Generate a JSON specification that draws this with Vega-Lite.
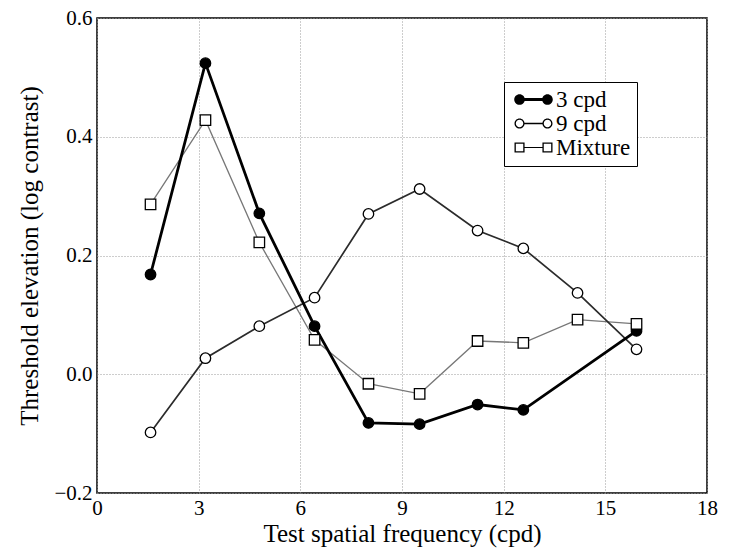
{
  "$schema": "https://vega.github.io/schema/vega-lite/v6.json",
  "width": 610,
  "height": 475,
  "autosize": {"type": "none"},
  "padding": {"left": 97, "top": 18, "right": 22, "bottom": 59},
  "background": "white",
  "config": {
    "view": {"stroke": "black", "strokeWidth": 1.5},
    "font": "Liberation Serif",
    "legend": {"labelFont": "Liberation Serif"},
    "axis": {
      "domain": false,
      "ticks": false,
      "grid": true,
      "gridColor": "#9a9a9a",
      "gridDash": [1, 2],
      "gridWidth": 1,
      "labelFont": "Liberation Serif",
      "labelFontSize": 21,
      "labelColor": "black",
      "titleFont": "Liberation Serif",
      "titleFontSize": 25,
      "titleFontWeight": "normal",
      "titleColor": "black"
    }
  },
  "data": {
    "values": [
      {"series": "3 cpd", "freq": 1.58, "elevation": 0.168},
      {"series": "3 cpd", "freq": 3.2, "elevation": 0.524},
      {"series": "3 cpd", "freq": 4.79, "elevation": 0.271},
      {"series": "3 cpd", "freq": 6.42, "elevation": 0.081},
      {"series": "3 cpd", "freq": 8.01, "elevation": -0.082},
      {"series": "3 cpd", "freq": 9.52, "elevation": -0.084},
      {"series": "3 cpd", "freq": 11.23, "elevation": -0.051},
      {"series": "3 cpd", "freq": 12.58, "elevation": -0.06},
      {"series": "3 cpd", "freq": 15.92, "elevation": 0.073},
      {"series": "9 cpd", "freq": 1.58, "elevation": -0.098},
      {"series": "9 cpd", "freq": 3.2, "elevation": 0.027},
      {"series": "9 cpd", "freq": 4.79, "elevation": 0.081},
      {"series": "9 cpd", "freq": 6.42, "elevation": 0.129},
      {"series": "9 cpd", "freq": 8.01, "elevation": 0.27},
      {"series": "9 cpd", "freq": 9.52, "elevation": 0.312},
      {"series": "9 cpd", "freq": 11.23, "elevation": 0.242},
      {"series": "9 cpd", "freq": 12.58, "elevation": 0.212},
      {"series": "9 cpd", "freq": 14.18, "elevation": 0.137},
      {"series": "9 cpd", "freq": 15.92, "elevation": 0.042},
      {"series": "Mixture", "freq": 1.58, "elevation": 0.286},
      {"series": "Mixture", "freq": 3.2, "elevation": 0.428},
      {"series": "Mixture", "freq": 4.79, "elevation": 0.222},
      {"series": "Mixture", "freq": 6.42, "elevation": 0.058},
      {"series": "Mixture", "freq": 8.01, "elevation": -0.016},
      {"series": "Mixture", "freq": 9.52, "elevation": -0.033},
      {"series": "Mixture", "freq": 11.23, "elevation": 0.056},
      {"series": "Mixture", "freq": 12.58, "elevation": 0.053},
      {"series": "Mixture", "freq": 14.18, "elevation": 0.092},
      {"series": "Mixture", "freq": 15.92, "elevation": 0.085}
    ]
  },
  "encoding": {
    "x": {
      "field": "freq",
      "type": "quantitative",
      "title": "Test spatial frequency (cpd)",
      "scale": {"domain": [0, 18], "nice": false, "zero": false},
      "axis": {"values": [0, 3, 6, 9, 12, 15, 18], "labelPadding": 4, "titlePadding": 3, "labelFlush": false}
    },
    "y": {
      "field": "elevation",
      "type": "quantitative",
      "title": "Threshold elevation (log contrast)",
      "scale": {"domain": [-0.2, 0.6], "nice": false, "zero": false},
      "axis": {"values": [-0.2, 0, 0.2, 0.4, 0.6], "format": ".1f", "labelPadding": 5, "titlePadding": 11}
    }
  },
  "layer": [
    {
      "transform": [{"filter": "datum.series === 'Mixture'"}],
      "mark": {"type": "line", "color": "#777777", "strokeWidth": 1.3}
    },
    {
      "transform": [{"filter": "datum.series === '9 cpd'"}],
      "mark": {"type": "line", "color": "#2b2b2b", "strokeWidth": 1.7}
    },
    {
      "transform": [{"filter": "datum.series === '3 cpd'"}],
      "mark": {"type": "line", "color": "black", "strokeWidth": 2.8}
    },
    {
      "mark": {"type": "point", "filled": true, "stroke": "black", "strokeWidth": 1.3, "size": 110, "opacity": 1},
      "encoding": {
        "shape": {
          "field": "series",
          "type": "nominal",
          "scale": {"domain": ["3 cpd", "9 cpd", "Mixture"], "range": ["circle", "circle", "square"]},
          "legend": null
        },
        "fill": {
          "field": "series",
          "type": "nominal",
          "scale": {"domain": ["3 cpd", "9 cpd", "Mixture"], "range": ["black", "white", "white"]},
          "legend": null
        }
      }
    },
    {
      "transform": [{"filter": "false"}],
      "mark": {"type": "point", "filled": true, "color": "black", "strokeWidth": 0, "opacity": 1},
      "encoding": {
        "shape": {
          "field": "series",
          "type": "nominal",
          "scale": {
            "domain": ["3 cpd", "9 cpd", "Mixture"],
            "range": [
              "M-1.04,0A0.76,0.76,0,1,1,0.48,0A0.76,0.76,0,1,1,-1.04,0ZM0.3,-0.2L3.13,-0.2L3.13,0.2L0.3,0.2ZM2.95,0A0.76,0.76,0,1,1,4.47,0A0.76,0.76,0,1,1,2.95,0Z",
              "M-1,0A0.72,0.72,0,1,1,0.44,0A0.72,0.72,0,1,1,-1,0ZM-0.81,0A0.53,0.53,0,1,0,0.25,0A0.53,0.53,0,1,0,-0.81,0ZM0.3,-0.1L3.13,-0.1L3.13,0.1L0.3,0.1ZM2.99,0A0.72,0.72,0,1,1,4.43,0A0.72,0.72,0,1,1,2.99,0ZM3.18,0A0.53,0.53,0,1,0,4.24,0A0.53,0.53,0,1,0,3.18,0Z",
              "M-1,-0.72L0.44,-0.72L0.44,0.72L-1,0.72ZM-0.81,-0.53L-0.81,0.53L0.25,0.53L0.25,-0.53ZM0.3,-0.08L3.13,-0.08L3.13,0.08L0.3,0.08ZM2.99,-0.72L4.43,-0.72L4.43,0.72L2.99,0.72ZM3.18,-0.53L3.18,0.53L4.24,0.53L4.24,-0.53Z"
            ]
          },
          "legend": {
            "title": null,
            "orient": "none",
            "legendX": 407,
            "legendY": 64,
            "padding": 6,
            "strokeColor": "black",
            "fillColor": "white",
            "symbolSize": 196,
            "symbolFillColor": "black",
            "symbolStrokeWidth": 0,
            "symbolOpacity": 1,
            "labelFont": "Liberation Serif",
            "labelFontSize": 23,
            "labelColor": "black",
            "labelOffset": 23,
            "rowPadding": 0
          }
        }
      }
    }
  ],
  "resolve": {"scale": {"shape": "independent"}}
}
